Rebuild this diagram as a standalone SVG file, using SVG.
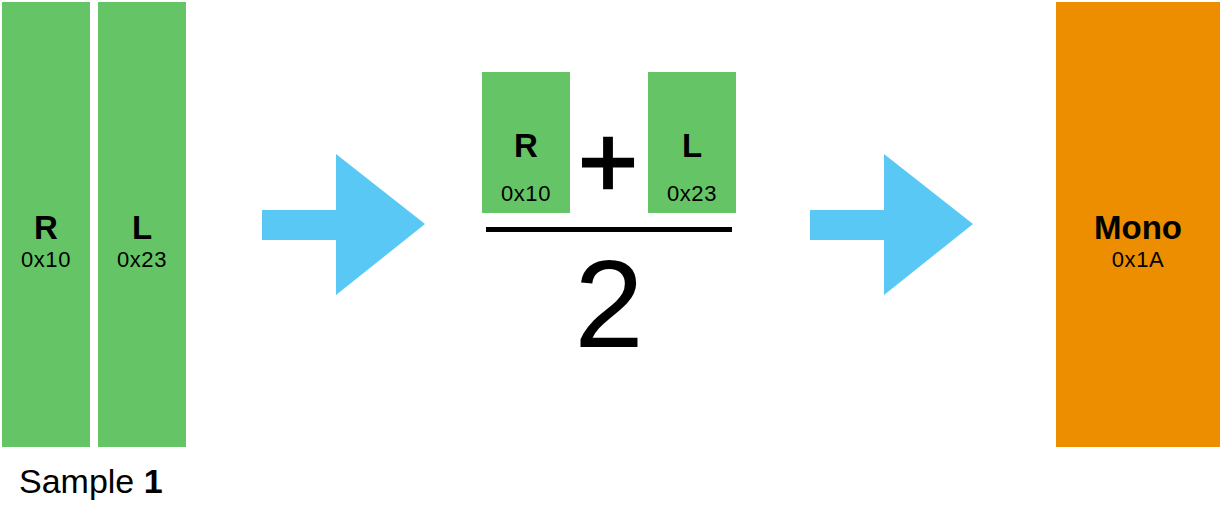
<svg xmlns="http://www.w3.org/2000/svg" width="1222" height="510" viewBox="0 0 1222 510">
<style>
.g{fill:#65C466}
.o{fill:#EC8E00}
.b{fill:#5AC8F5}
text{font-family:"Liberation Sans",Arial,sans-serif;fill:#000;text-anchor:middle}
.big{font-size:33px;font-weight:bold}
.hex{font-size:22px;letter-spacing:0.6px}
</style>
<rect width="1222" height="510" fill="#fff"/>
<g id="sample-r">
<rect class="g" x="2" y="2" width="88" height="445"/>
<text class="big" x="46" y="239">R</text>
<text class="hex" x="46" y="267">0x10</text>
</g>
<g id="sample-l">
<rect class="g" x="98" y="2" width="88" height="445"/>
<text class="big" x="142" y="239">L</text>
<text class="hex" x="142" y="267">0x23</text>
</g>
<g id="sample-label">
<text x="19" y="493" style="font-size:34px;text-anchor:start">Sample <tspan font-weight="bold">1</tspan></text>
</g>
<g id="connectors">
<polygon class="b" points="262,210 336,210 336,154 425,224 336,295 336,240 262,240"/>
<polygon class="b" points="810,210 884,210 884,154 973,224 884,295 884,240 810,240"/>
</g>
<g id="formula">
<g id="formula-r">
<rect class="g" x="482" y="72" width="88" height="141"/>
<text class="big" x="526" y="157">R</text>
<text class="hex" x="526" y="201">0x10</text>
</g>
<text x="608" y="197" style="font-size:102px;stroke:#000;stroke-width:2.5px">+</text>
<g id="formula-l">
<rect class="g" x="648" y="72" width="88" height="141"/>
<text class="big" x="692" y="157">L</text>
<text class="hex" x="692" y="201">0x23</text>
</g>
<rect x="486" y="227" width="246" height="5" fill="#000"/>
<text x="609" y="347" style="font-size:125px">2</text>
</g>
<g id="mono">
<rect class="o" x="1056" y="2" width="164" height="445"/>
<text class="big" x="1138" y="239">Mono</text>
<text class="hex" x="1138" y="267">0x1A</text>
</g>
</svg>
